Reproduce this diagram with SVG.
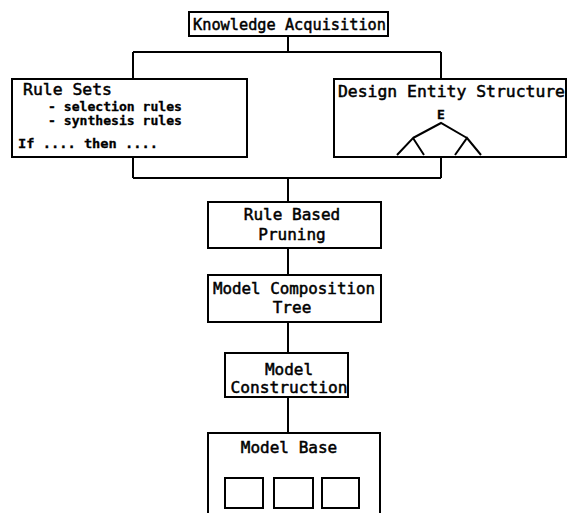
<svg xmlns="http://www.w3.org/2000/svg" width="568" height="513" viewBox="0 0 568 513">
<style>
.box{fill:#fff;stroke:#000;stroke-width:2}
.ln{fill:none;stroke:#000;stroke-width:2}
text{font-family:"DejaVu Sans Mono","Liberation Mono",monospace;fill:#000;font-size:16px;stroke:#000;stroke-width:0.5}
.c{text-anchor:middle}
.s{font-size:13px;font-weight:bold;stroke-width:0.3}
</style>
<rect width="568" height="513" fill="#fff"/>
<g id="connectors">
<path class="ln" d="M288,36V52M133,52H441M133,52V79M441,52V79"/>
<path class="ln" d="M133,157V178M441,157V178M133,178H441M288,178V202"/>
<path class="ln" d="M288,248V275M288,322V353M288,397V433"/>
</g>
<g id="knowledge-acquisition">
<rect class="box" x="189" y="12" width="199" height="24"/>
<text x="193" y="30" textLength="193" lengthAdjust="spacingAndGlyphs">Knowledge Acquisition</text>
</g>
<g id="rule-sets">
<rect class="box" x="12" y="79" width="235" height="78"/>
<text x="23" y="95" textLength="89" lengthAdjust="spacingAndGlyphs">Rule Sets</text>
<text class="s" x="48" y="111" textLength="134" lengthAdjust="spacingAndGlyphs">- selection rules</text>
<text class="s" x="48" y="125" textLength="134" lengthAdjust="spacingAndGlyphs">- synthesis rules</text>
<text class="s" x="18" y="148" textLength="140" lengthAdjust="spacingAndGlyphs">If .... then ....</text>
</g>
<g id="design-entity-structure">
<rect class="box" x="334" y="79" width="232" height="78"/>
<text x="338" y="97" textLength="227" lengthAdjust="spacingAndGlyphs">Design Entity Structure</text>
<text class="c" x="441" y="119" style="font-size:13px;font-weight:bold;stroke-width:0.3">E</text>
<path class="ln" d="M397,155L413,138L424,155M413,138L441,123L467,138M455,155L467,138L481,155"/>
</g>
<g id="rule-based-pruning">
<rect class="box" x="208" y="202" width="173" height="46"/>
<text class="c" x="292" y="220">Rule Based</text>
<text class="c" x="292" y="240">Pruning</text>
</g>
<g id="model-composition-tree">
<rect class="box" x="208" y="275" width="173" height="47"/>
<text x="213" y="294" textLength="162" lengthAdjust="spacingAndGlyphs">Model Composition</text>
<text class="c" x="292" y="313">Tree</text>
</g>
<g id="model-construction">
<rect class="box" x="225" y="353" width="123" height="44"/>
<text class="c" x="289" y="375">Model</text>
<text class="c" x="289" y="393" textLength="117" lengthAdjust="spacingAndGlyphs">Construction</text>
</g>
<g id="model-base">
<path class="box" d="M208,514V433H380V514"/>
<text class="c" x="289" y="453">Model Base</text>
<rect class="box" x="225" y="478" width="38" height="30"/>
<rect class="box" x="274" y="478" width="39" height="30"/>
<rect class="box" x="322" y="478" width="37" height="30"/>
</g>
</svg>
